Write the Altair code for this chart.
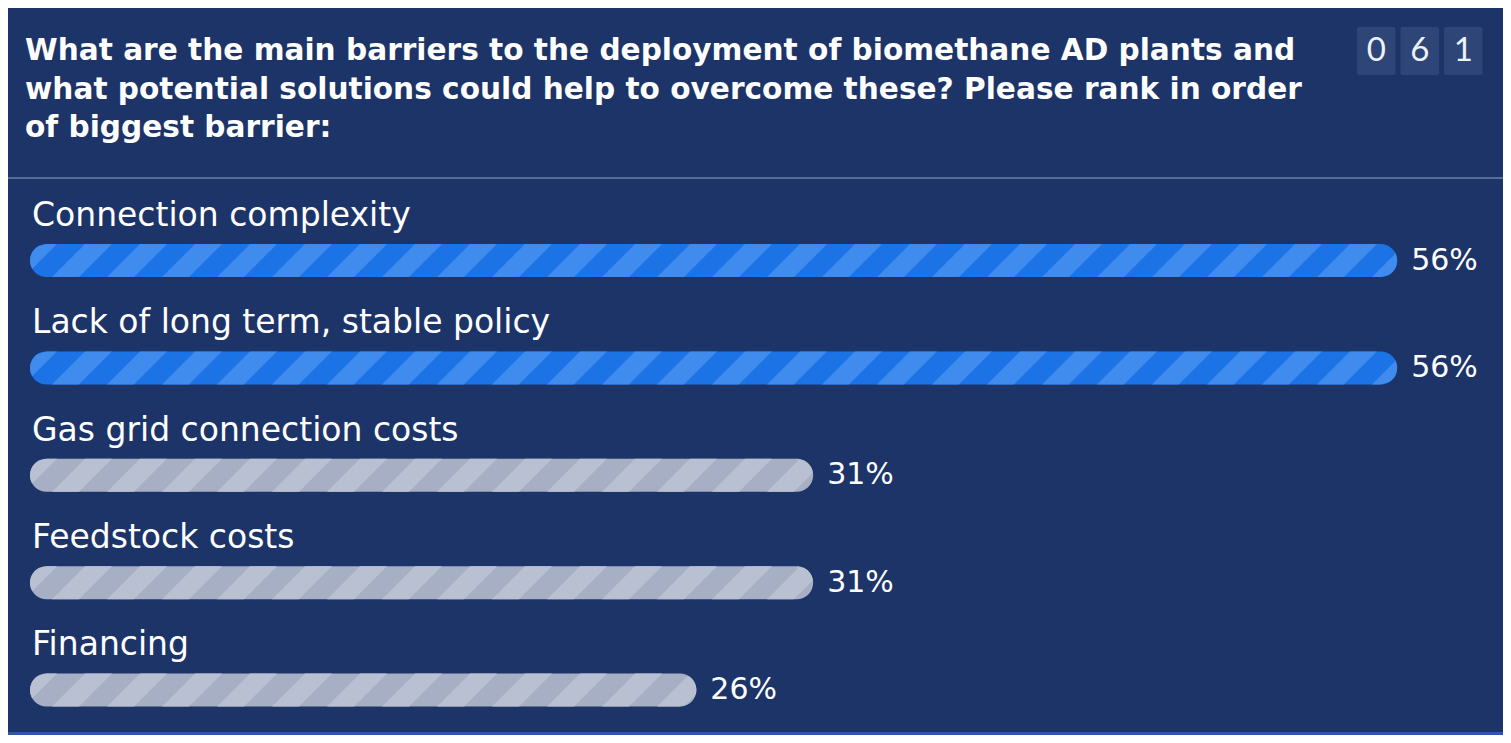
import math
import altair as alt
import pandas as pd

# ---------------- data ----------------
TITLE_LINES = [
    "What are the main barriers to the deployment of biomethane AD plants and",
    "what potential solutions could help to overcome these? Please rank in order",
    "of biggest barrier:",
]
CATEGORIES = [
    "Connection complexity",
    "Lack of long term, stable policy",
    "Gas grid connection costs",
    "Feedstock costs",
    "Financing",
]
PERCENTS = [56, 56, 31, 31, 26]
GROUPS = ["top", "top", "other", "other", "other"]
COUNTER_DIGITS = ["0", "6", "1"]

# ---------------- style / layout ----------------
W, H = 1495, 727
BG = "#1d3468"
FONT = "DejaVu Sans"
FILL = {"top": "#1b73e6", "other": "#a6afc4"}
STRIPE = {"top": "#3f8bee", "other": "#b8c0d1"}

PXU = 23.36            # px per percentage point
BAR_LEFT_PX = 22.0     # chart px where bars begin
BAR_START = -2.526     # value where the rounded bar begins
ROW_PX = 107.4         # px between rows
ROW0_PX = 252.5        # chart px of first bar centre
BAR_H = 33.0
RAD = BAR_H / 2
STRIPE_P = 55.0
STRIPE_W = 27.0

x_dom = [BAR_START - BAR_LEFT_PX / PXU, BAR_START + (W - BAR_LEFT_PX) / PXU]
y_dom = [-ROW0_PX / ROW_PX, (H - ROW0_PX) / ROW_PX]
xs = alt.Scale(domain=x_dom, nice=False, zero=False)
ys = alt.Scale(domain=y_dom, nice=False, zero=False, reverse=True)


def px_x(px):
    return BAR_START + (px - BAR_LEFT_PX) / PXU


def px_y(py):
    return (py - ROW0_PX) / ROW_PX


half = (BAR_H / 2) / ROW_PX
bars = pd.DataFrame({
    "cat": CATEGORIES,
    "value": PERCENTS,
    "row": list(range(len(CATEGORIES))),
    "group": GROUPS,
})
bars["start"] = BAR_START
bars["y_top"] = bars["row"] - half
bars["y_bot"] = bars["row"] + half
bars["fill"] = bars["group"].map(FILL)
bars["label"] = bars["value"].astype(str) + "%"

# stripes (diagonal pattern) built from the bar values
srows = []
NS = 16
sid = 0
for i, (v, g) in enumerate(zip(PERCENTS, GROUPS)):
    wpx = (v - BAR_START) * PXU
    s0 = -BAR_H
    while s0 < wpx:
        pts = []
        vis = False
        for j in range(NS + 1):
            u = BAR_H * j / NS
            d = math.sqrt(max(RAD * RAD - (u - RAD) ** 2, 0.0))
            xl, xr = RAD - d, wpx - RAD + d
            a = s0 + u
            b = a + STRIPE_W
            lo = min(max(a, xl), xr)
            hi = min(max(b, xl), xr)
            if hi > lo + 0.01:
                vis = True
            pts.append((i + (BAR_H / 2 - u) / ROW_PX,
                        BAR_START + lo / PXU, BAR_START + hi / PXU))
        if vis:
            for r, lo, hi in pts:
                srows.append({"sid": sid, "row": r, "xlo": lo, "xhi": hi,
                              "fill": STRIPE[g]})
            sid += 1
        s0 += STRIPE_P
stripes = pd.DataFrame(srows)

counter = pd.DataFrame({"digit": COUNTER_DIGITS, "slot": list(range(len(COUNTER_DIGITS)))})
counter["x0"] = counter["slot"].map(lambda k: px_x(1349 + k * 43.5))
counter["x1"] = counter["slot"].map(lambda k: px_x(1349 + k * 43.5 + 38.5))
counter["xc"] = (counter["x0"] + counter["x1"]) / 2
counter["y0"] = px_y(19)
counter["y1"] = px_y(67)
counter["yc"] = px_y(43)

one = pd.DataFrame({"a": [0]})
title_df = pd.DataFrame({"t": ["\n".join(TITLE_LINES)]})

# ---------------- layers ----------------
title = alt.Chart(title_df).mark_text(
    font=FONT, fontSize=29.6, fontWeight="bold", color="white", align="left",
    baseline="alphabetic", lineBreak="\n", lineHeight=38.5,
).encode(x=alt.value(17), y=alt.value(52), text="t:N")

divider = alt.Chart(one).mark_rule(color="#6d7fa8", strokeWidth=1.5).encode(
    x=alt.value(0), x2=alt.value(W), y=alt.value(170))

bottom_strip = alt.Chart(one).mark_rect(color="#2f56a9").encode(
    x=alt.value(0), x2=alt.value(W), y=alt.value(724), y2=alt.value(H))

cbox = alt.Chart(counter).mark_rect(color="#2d4577", cornerRadius=2).encode(
    x=alt.X("x0:Q", scale=xs, axis=None), x2="x1:Q",
    y=alt.Y("y0:Q", scale=ys, axis=None), y2="y1:Q")

ctext = alt.Chart(counter).mark_text(
    font="Lato", fontSize=33, color="#eef1f7", align="center", baseline="middle"
).encode(x=alt.X("xc:Q", scale=xs, axis=None),
         y=alt.Y("yc:Q", scale=ys, axis=None), text="digit:N")

bar_layer = alt.Chart(bars).mark_rect(cornerRadius=RAD).encode(
    x=alt.X("start:Q", scale=xs, axis=None), x2="value:Q",
    y=alt.Y("y_top:Q", scale=ys, axis=None), y2="y_bot:Q",
    color=alt.Color("fill:N", scale=None))

stripe_layer = alt.Chart(stripes).mark_area(orient="horizontal", opacity=1).encode(
    y=alt.Y("row:Q", scale=ys, axis=None),
    x=alt.X("xlo:Q", scale=xs, axis=None, stack=None), x2="xhi:Q",
    detail="sid:N",
    color=alt.Color("fill:N", scale=None))

cat_labels = alt.Chart(bars).mark_text(
    font=FONT, fontSize=33, color="white", align="left", baseline="alphabetic",
    dx=2, dy=-34.8,
).encode(x=alt.X("start:Q", scale=xs, axis=None),
         y=alt.Y("row:Q", scale=ys, axis=None), text="cat:N")

pct_labels = alt.Chart(bars).mark_text(
    font=FONT, fontSize=30, color="white", align="left", baseline="middle", dx=14,
).encode(x=alt.X("value:Q", scale=xs, axis=None),
         y=alt.Y("row:Q", scale=ys, axis=None), text="label:N")

chart = alt.layer(
    bottom_strip, divider, title, cbox, ctext, bar_layer, stripe_layer, cat_labels, pct_labels
).properties(
    width=W, height=H, background=BG, padding=0,
    autosize=alt.AutoSizeParams(type="none"),
).configure_view(stroke=None)

chart.save("out.html", embed_options={"renderer": "svg", "actions": False})
